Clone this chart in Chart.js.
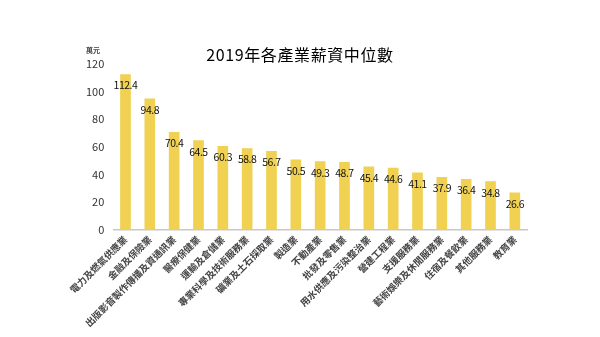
<!DOCTYPE html>
<html><head><meta charset="utf-8">
<script src="https://cdn.jsdelivr.net/npm/chart.js@4.4.1/dist/chart.umd.min.js"></script>
<style>html,body{margin:0;padding:0;background:#fff;}#wrap{width:600px;height:337px;}</style>
</head><body><div id="wrap"><canvas id="c" width="600" height="337"></canvas></div>
<script>
const categories = ["電力及燃氣供應業","金融及保險業","出版影音製作傳播及資通訊業","醫療保健業","運輸及倉儲業","專業科學及技術服務業","礦業及土石採取業","製造業","不動產業","批發及零售業","用水供應及污染整治業","營建工程業","支援服務業","藝術娛樂及休閒服務業","住宿及餐飲業","其他服務業","教育業"];
const values = [112.4,94.8,70.4,64.5,60.3,58.8,56.7,50.5,49.3,48.7,45.4,44.6,41.1,37.9,36.4,34.8,26.6];
const yTicks = [0,20,40,60,80,100,120];
const titleText = "2019年各產業薪資中位數";
const unitText = "萬元";
const FONT = "'Noto Sans CJK TC','Noto Sans',sans-serif";

const labelPlugin = {
  id: 'extras',
  afterDatasetsDraw(chart) {
    const ctx = chart.ctx;
    const meta = chart.getDatasetMeta(0);
    ctx.save();
    ctx.font = "10.5px " + FONT;
    ctx.fillStyle = "#111";
    ctx.textAlign = "center";
    ctx.textBaseline = "middle";
    try { ctx.letterSpacing = "-0.5px"; } catch(e) {}
    meta.data.forEach((bar, i) => {
      ctx.fillText(values[i].toFixed(1), bar.x, bar.y + 11);
    });
    ctx.restore();
  },
  afterDraw(chart) {
    const ctx = chart.ctx;
    ctx.save();
    ctx.font = "16px " + FONT;
    ctx.fillStyle = "#000";
    ctx.textAlign = "center";
    ctx.textBaseline = "middle";
    try { ctx.letterSpacing = "0.6px"; } catch(e) {}
    ctx.fillText(titleText, 300, 55);
    try { ctx.letterSpacing = "0px"; } catch(e) {}
    ctx.font = "bold 7px " + FONT;
    ctx.fillStyle = "#444";
    ctx.textAlign = "center";
    ctx.fillText(unitText, 93, 50);
    ctx.restore();
  }
};

new Chart(document.getElementById('c'), {
  type: 'bar',
  data: {
    labels: categories,
    datasets: [{
      data: values,
      backgroundColor: '#f0d152',
      barThickness: 10
    }]
  },
  options: {
    responsive: false,
    animation: false,
    devicePixelRatio: 1,
    layout: { padding: { left: 77, right: 73, top: 64, bottom: 4 } },
    plugins: { legend: { display: false }, tooltip: { enabled: false }, title: { display: false } },
    scales: {
      x: {
        grid: { display: false, drawTicks: false },
        border: { color: '#c8c8c8', width: 1.5 },
        ticks: {
          minRotation: 45, maxRotation: 45, autoSkip: false,
          font: { size: 9.5, family: FONT, weight: 'bold' },
          color: '#444', padding: 4
        }
      },
      y: {
        min: 0, max: 120,
        afterBuildTicks(axis) { axis.ticks = yTicks.map(v => ({ value: v })); },
        grid: { display: false, drawTicks: false },
        border: { display: false },
        ticks: { font: { size: 11, family: FONT }, color: '#333', padding: 9 }
      }
    }
  },
  plugins: [labelPlugin]
});
</script></body></html>
